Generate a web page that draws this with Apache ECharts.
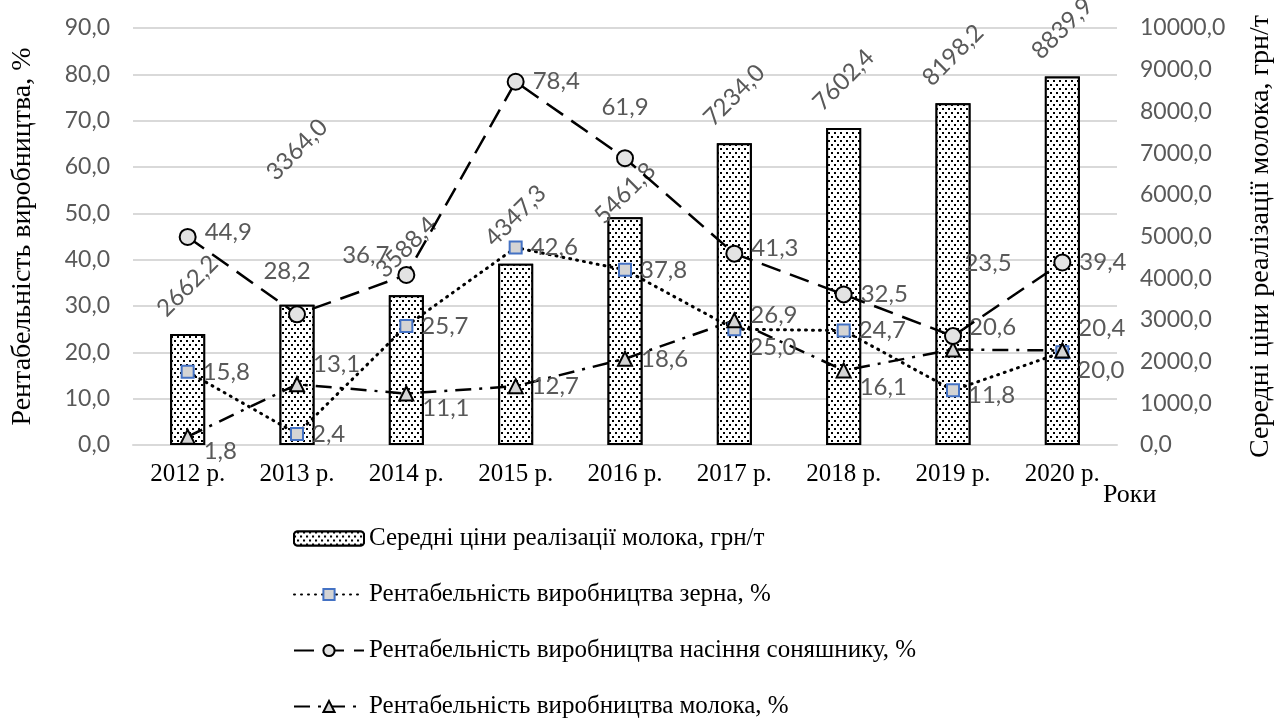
<!DOCTYPE html>
<html>
<head>
<meta charset="utf-8">
<script src="https://cdn.jsdelivr.net/npm/echarts@6/dist/echarts.min.js"></script>
<style>
html, body { margin: 0; padding: 0; background: #fff; }
#main { width: 1274px; height: 718px; }
</style>
</head>
<body>
<div id="main"></div>
<script>
// data
var years = ['2012 р.', '2013 р.', '2014 р.', '2015 р.', '2016 р.', '2017 р.', '2018 р.', '2019 р.', '2020 р.'];
var milkPrice = [2662.2, 3364.0, 3588.4, 4347.3, 5461.8, 7234.0, 7602.4, 8198.2, 8839.9];
var grainProfit = [15.8, 2.4, 25.7, 42.6, 37.8, 25.0, 24.7, 11.8, 20.0];
var sunflowerProfit = [44.9, 28.2, 36.7, 78.4, 61.9, 41.3, 32.5, 23.5, 39.4];
var milkProfit = [1.8, 13.1, 11.1, 12.7, 18.6, 26.9, 16.1, 20.6, 20.4];

var GREY = '#595959'
var SERIF = 'Liberation Serif'
var SANS = 'Lato'

function fmt(v) {
  return Number(v).toFixed(1).replace('.', ',')
}

// label tweaks per point (index -> settings), kept apart from the values
var barLabelTweak = { 1: { distance: 155 }, 4: { distance: 24 } }
var grainLabelTweak = { 5: { offset: [0, 18] }, 7: { offset: [0, 5] }, 8: { offset: [0, 18] } }
var sunLabelTweak = {
  0: { offset: [0, -5] },
  1: { position: 'top', distance: 22, offset: [-10, 0] },
  2: { position: 'left', offset: [0, -20] },
  4: { position: 'top', distance: 30 },
  5: { offset: [0, -5] },
  7: { position: 'top', distance: 52, offset: [35, 0] }
}
var milkLabelTweak = {
  0: { offset: [0, 15] },
  1: { offset: [0, -20] },
  2: { offset: [0, 15] },
  5: { offset: [0, -5] },
  6: { offset: [0, 17] },
  7: { offset: [0, -22] },
  8: { offset: [0, -22] }
}

function withLabels(values, tweaks) {
  return values.map(function (v, i) {
    return tweaks[i] ? { value: v, label: tweaks[i] } : v
  })
}

var chart = echarts.init(document.getElementById('main'))

var lineLabel = {
  show: true,
  position: 'right',
  distance: 8,
  color: GREY,
  fontFamily: SANS,
  fontSize: 24,
  formatter: function (p) { return fmt(p.value) }
}

chart.setOption({
  animation: false,
  backgroundColor: '#fff',
  grid: { left: 133, right: 157, top: 28, bottom: 273, outerBoundsMode: 'none' },
  graphic: [{
    type: 'text',
    left: 1103,
    top: 482,
    style: { text: 'Роки', font: '26px "Liberation Serif"', fill: '#000' }
  }],
  legend: {
    orient: 'vertical',
    left: 293,
    top: 526,
    height: 220,
    padding: 0,
    itemGap: 31,
    itemWidth: 70,
    itemHeight: 14,
    textStyle: { fontFamily: SERIF, fontSize: 25, color: '#000' },
    data: [
      'Середні ціни реалізації молока, грн/т',
      'Рентабельність виробництва зерна, %',
      'Рентабельність виробництва насіння соняшнику, %',
      'Рентабельність виробництва молока, %'
    ]
  },
  xAxis: {
    type: 'category',
    data: years,
    axisLine: { lineStyle: { color: '#d9d9d9', width: 2 } },
    axisTick: { show: false },
    axisLabel: { fontFamily: SERIF, fontSize: 25, color: '#000', margin: 17 }
  },
  yAxis: [
    {
      type: 'value',
      min: 0,
      max: 90,
      interval: 10,
      name: 'Рентабельність виробництва, %',
      nameLocation: 'middle',
      nameGap: 96,
      nameRotate: 90,
      nameTextStyle: { fontFamily: SERIF, fontSize: 28, color: '#000' },
      axisLine: { show: false },
      axisTick: { show: false },
      axisLabel: { fontFamily: SANS, fontSize: 23, color: GREY, margin: 23, formatter: fmt },
      splitLine: { lineStyle: { color: '#d9d9d9', width: 2 } }
    },
    {
      type: 'value',
      min: 0,
      max: 10000,
      interval: 1000,
      name: 'Середні ціни реалізації молока, грн/т',
      nameLocation: 'middle',
      nameGap: 130,
      nameRotate: 90,
      nameTextStyle: { fontFamily: SERIF, fontSize: 28, color: '#000' },
      axisLine: { show: false },
      axisTick: { show: false },
      axisLabel: { fontFamily: SANS, fontSize: 23, color: GREY, margin: 23, formatter: fmt },
      splitLine: { show: false }
    }
  ],
  series: [
    {
      name: 'Середні ціни реалізації молока, грн/т',
      type: 'bar',
      yAxisIndex: 1,
      barWidth: 35,
      data: withLabels(milkPrice, barLabelTweak),
      itemStyle: {
        color: '#fff',
        borderColor: '#000',
        borderWidth: 2,
        decal: {
          symbol: 'rect',
          symbolSize: 1,
          color: '#000',
          backgroundColor: '#fff',
          dashArrayX: [[1.5, 3.5], [0, 2.5, 1.5, 1]],
          dashArrayY: [1.5, 1.5],
          rotation: 0
        }
      },
      label: {
        show: true,
        position: 'top',
        distance: 48,
        rotate: 45,
        align: 'center',
        verticalAlign: 'middle',
        color: GREY,
        fontFamily: SANS,
        fontSize: 24,
        formatter: function (p) { return fmt(p.value) }
      },
      z: 1
    },
    {
      name: 'Рентабельність виробництва зерна, %',
      type: 'line',
      data: withLabels(grainProfit, grainLabelTweak),
      symbol: 'rect',
      symbolSize: 12,
      itemStyle: { color: '#d4d4d4', borderColor: '#4472c4', borderWidth: 2 },
      lineStyle: { color: '#000', width: 3, type: [1, 6], cap: 'round' },
      label: lineLabel,
      z: 3
    },
    {
      name: 'Рентабельність виробництва насіння соняшнику, %',
      type: 'line',
      data: withLabels(sunflowerProfit, sunLabelTweak),
      symbol: 'circle',
      symbolSize: 16,
      itemStyle: { color: '#e3e3e3', borderColor: '#000', borderWidth: 2 },
      lineStyle: { color: '#000', width: 2.5, type: [20, 10] },
      label: lineLabel,
      z: 4
    },
    {
      name: 'Рентабельність виробництва молока, %',
      type: 'line',
      data: withLabels(milkProfit, milkLabelTweak),
      symbol: 'triangle',
      symbolSize: 14,
      itemStyle: { color: '#d4d4d4', borderColor: '#000', borderWidth: 2 },
      lineStyle: { color: '#000', width: 2.5, type: [16, 8, 3, 8] },
      label: lineLabel,
      z: 3
    }
  ]
})
</script>
</body>
</html>
